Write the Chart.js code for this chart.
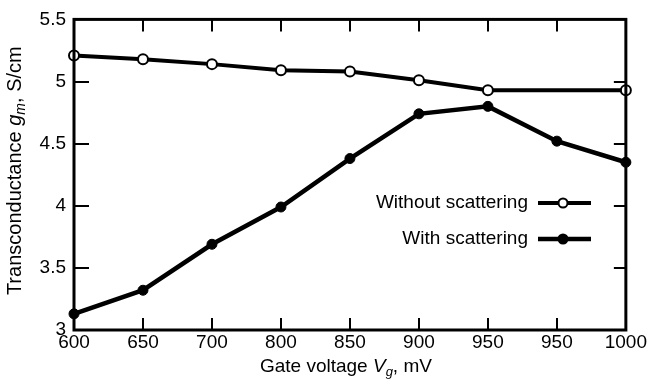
<!DOCTYPE html>
<html>
<head>
<meta charset="utf-8">
<script src="https://cdn.jsdelivr.net/npm/chart.js@4"></script>
<style>
  html, body { margin: 0; padding: 0; background: #fff; }
  #wrap { width: 648px; height: 385px; }
</style>
</head>
<body>
<div id="wrap"><canvas id="chart" width="648" height="385"></canvas></div>
<script>
const gateLabels = ["600", "650", "700", "800", "850", "900", "950", "950", "1000"];
const withoutScattering = [5.21, 5.18, 5.14, 5.09, 5.08, 5.01, 4.93, 4.93, 4.93];
const withScattering = [3.13, 3.32, 3.69, 3.99, 4.38, 4.74, 4.80, 4.52, 4.35];
const withoutMarkers = [5, 5, 5, 5, 5, 5, 5, 0, 5]; // no marker on the 2nd 950 point
const yMin = 3, yMax = 5.5, yStep = 0.5;
const legendNames = ["Without scattering", "With scattering"];

const FONT = "Liberation Sans, Arial, Helvetica, sans-serif";

// ticks pointing inward + frame + axis titles + legend
const frameAndText = {
  id: "frameAndText",
  afterDraw(chart) {
    const ctx = chart.ctx;
    const a = chart.chartArea;
    const xs = chart.scales.x, ys = chart.scales.y;
    ctx.save();
    ctx.strokeStyle = "#000";
    ctx.lineWidth = 2;
    ctx.beginPath();
    for (let v = yMin + yStep; v < yMax; v += yStep) {
      const y = Math.round(ys.getPixelForValue(v));
      ctx.moveTo(a.left, y); ctx.lineTo(a.left + 15, y);
      ctx.moveTo(a.right, y); ctx.lineTo(a.right - 12, y);
    }
    for (let i = 1; i < gateLabels.length - 1; i++) {
      const x = Math.round(xs.getPixelForValue(i));
      ctx.moveTo(x, a.bottom); ctx.lineTo(x, a.bottom - 12);
      ctx.moveTo(x, a.top); ctx.lineTo(x, a.top + 12);
    }
    ctx.stroke();
    ctx.lineWidth = 3;
    ctx.strokeRect(a.left, a.top, a.right - a.left, a.bottom - a.top);

    // axis titles with italic symbols
    function drawParts(parts, cx, cy) {
      let total = 0;
      parts.forEach(p => { ctx.font = p.font; p.w = ctx.measureText(p.t).width; total += p.w; });
      let x = cx - total / 2;
      ctx.textBaseline = "alphabetic";
      ctx.textAlign = "left";
      parts.forEach(p => { ctx.font = p.font; ctx.fillText(p.t, x, cy + (p.dy || 0)); x += p.w; });
    }
    ctx.fillStyle = "#000";
    const reg = "19px " + FONT, ital = "italic 19px " + FONT, sub = "italic 13px " + FONT;
    drawParts([
      { t: "Gate voltage ", font: reg },
      { t: "V", font: ital },
      { t: "g", font: sub, dy: 4 },
      { t: ", mV", font: reg }
    ], (a.left + a.right) / 2 - 4, 372);

    ctx.save();
    ctx.translate(21, (a.top + a.bottom) / 2 - 4);
    ctx.rotate(-Math.PI / 2);
    drawParts([
      { t: "Transconductance ", font: "20px " + FONT },
      { t: "g", font: "italic 20px " + FONT },
      { t: "m", font: "italic 14px " + FONT, dy: 4 },
      { t: ", S/cm", font: "20px " + FONT }
    ], 0, 0);
    ctx.restore();

    // legend: text, then line sample with marker
    const rows = [203, 239];
    chart.data.datasets.forEach((ds, k) => {
      const y = rows[k];
      ctx.font = reg;
      ctx.textAlign = "right";
      ctx.textBaseline = "middle";
      ctx.fillText(legendNames[k], 528, y);
      ctx.lineWidth = ds.borderWidth;
      ctx.beginPath();
      ctx.moveTo(538, y); ctx.lineTo(591, y);
      ctx.stroke();
      ctx.beginPath();
      ctx.arc(563, y, 4.5, 0, Math.PI * 2);
      ctx.fillStyle = k === 0 ? "#fff" : "#000";
      ctx.fill();
      ctx.lineWidth = 2;
      ctx.stroke();
      ctx.fillStyle = "#000";
    });
    ctx.restore();
  }
};

new Chart(document.getElementById("chart"), {
  type: "line",
  data: {
    labels: gateLabels,
    datasets: [
      {
        label: legendNames[0],
        data: withoutScattering,
        borderColor: "#000",
        borderWidth: 4,
        pointRadius: withoutMarkers,
        pointBackgroundColor: "#fff",
        pointBorderColor: "#000",
        pointBorderWidth: 2,
        tension: 0,
        clip: false
      },
      {
        label: legendNames[1],
        data: withScattering,
        borderColor: "#000",
        borderWidth: 4.5,
        pointRadius: 5,
        pointBackgroundColor: "#000",
        pointBorderColor: "#000",
        pointBorderWidth: 1,
        tension: 0,
        clip: false
      }
    ]
  },
  options: {
    responsive: false,
    animation: false,
    layout: { padding: { top: 11, right: 19, left: 0, bottom: 0 } },
    plugins: { legend: { display: false }, tooltip: { enabled: false } },
    scales: {
      x: {
        offset: false,
        grid: { display: false, drawTicks: false },
        border: { display: false },
        ticks: { color: "#000", font: { family: FONT, size: 19 }, padding: 1, maxRotation: 0, autoSkip: false },
        afterFit(scale) { scale.height = 55; }
      },
      y: {
        min: yMin,
        max: yMax,
        grid: { display: false, drawTicks: false },
        border: { display: false },
        ticks: {
          stepSize: yStep,
          color: "#000",
          font: { family: FONT, size: 19 },
          padding: 8,
          callback: v => String(v)
        },
        afterFit(scale) { scale.width = 74; }
      }
    }
  },
  plugins: [frameAndText]
});
</script>
</body>
</html>
